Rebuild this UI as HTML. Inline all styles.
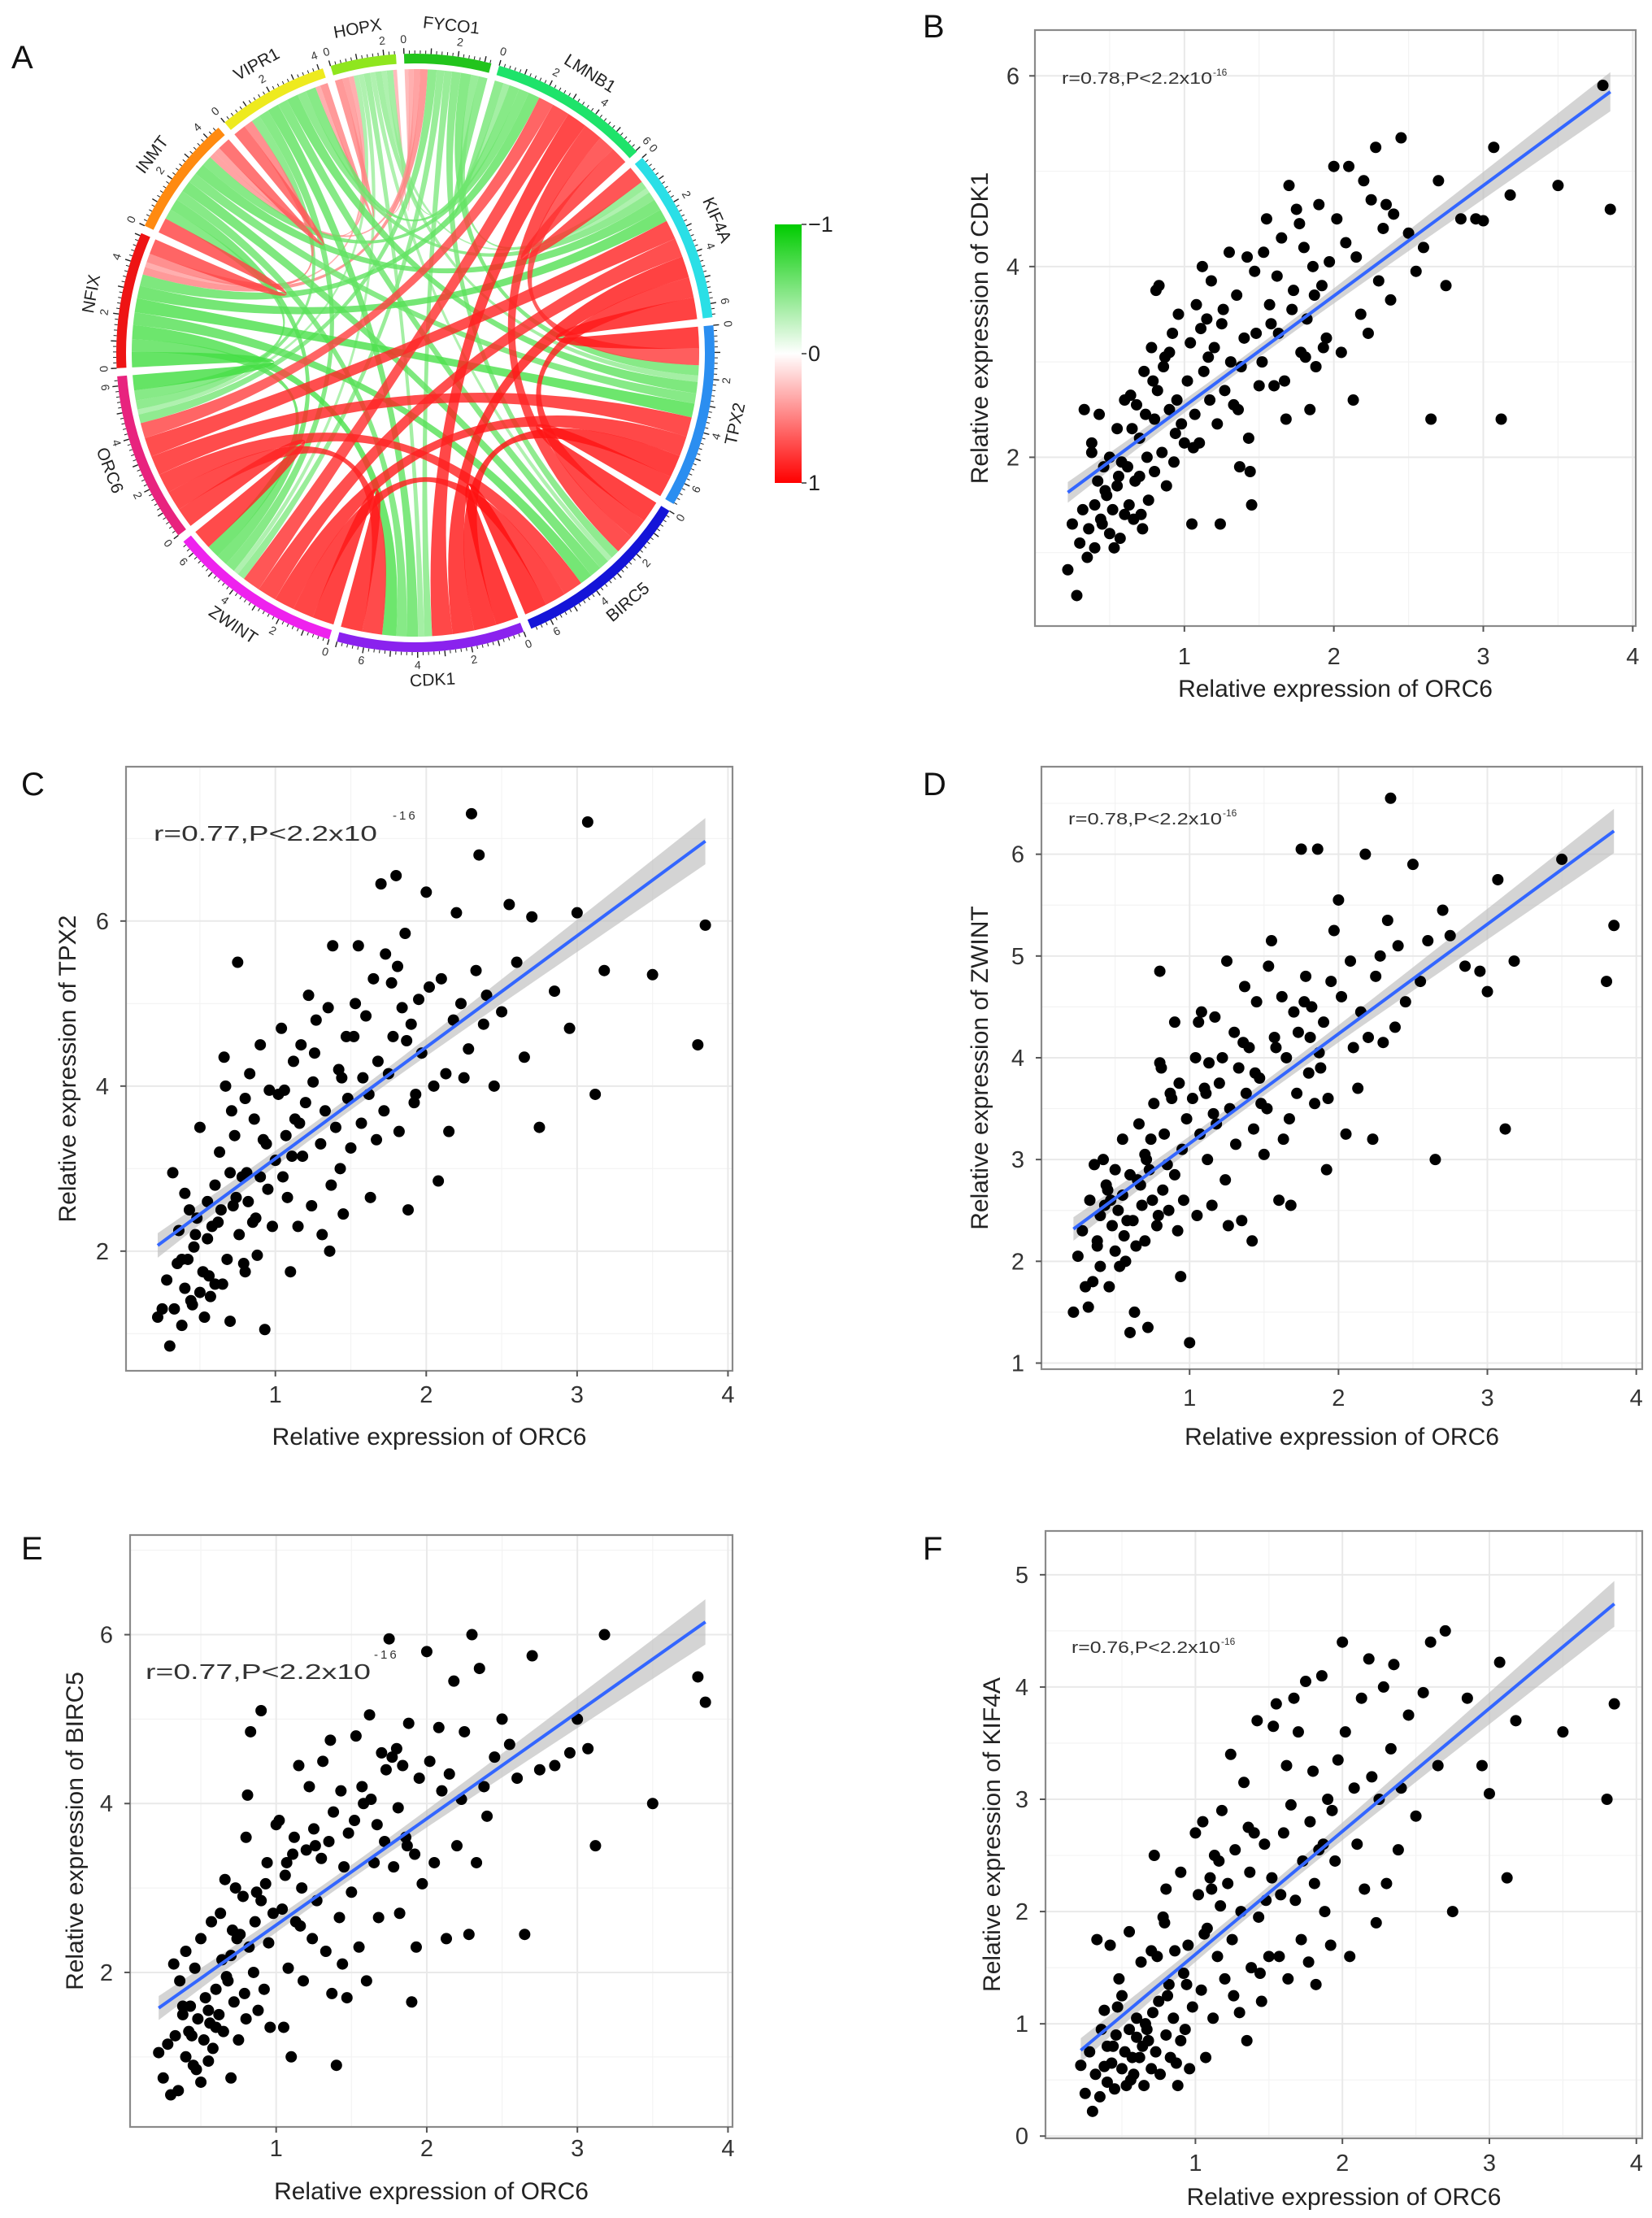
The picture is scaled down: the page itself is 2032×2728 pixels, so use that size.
<!DOCTYPE html>
<html><head><meta charset="utf-8"><title>ORC6 correlation figure</title>
<style>
html,body{margin:0;padding:0;background:#fff;}
svg{display:block;font-family:"Liberation Sans",Arial,sans-serif;}
</style></head>
<body>
<svg id="fig" xmlns="http://www.w3.org/2000/svg" width="2032" height="2728" viewBox="0 0 2032 2728">
<defs>
<linearGradient id="cbar" x1="0" y1="0" x2="0" y2="1">
<stop offset="0" stop-color="#00cc00"/><stop offset="0.5" stop-color="#ffffff"/><stop offset="1" stop-color="#ff0000"/>
</linearGradient>
</defs>
<rect x="0" y="0" width="2032" height="2728" fill="#fff"/>
<g id="chord"></g>
<g id="panels"></g>
</svg>
<script>
// ---------- Chord diagram data ----------
const genes=['FYCO1','LMNB1','KIF4A','TPX2','BIRC5','CDK1','ZWINT','ORC6','NFIX','INMT','VIPR1','HOPX'];
const linkFrom=[1,1,1,1,1,1, 2,2,2,2,2, 3,3,3,3, 4,4,4, 5,5, 6,
 0,0,0,0,0,0,0, 8,8,8,8,8,8,8, 9,9,9,9,9,9,9, 10,10,10,10,10,10,10, 11,11,11,11,11,11,11,
 0,0,0,0, 8,8,8, 9,9, 10];
const linkTo=[2,3,4,5,6,7, 3,4,5,6,7, 4,5,6,7, 5,6,7, 6,7, 7,
 1,2,3,4,5,6,7, 1,2,3,4,5,6,7, 1,2,3,4,5,6,7, 1,2,3,4,5,6,7, 1,2,3,4,5,6,7,
 8,9,10,11, 9,10,11, 10,11, 11];
const linkCorr=[0.7,0.65,0.75,0.8,0.7,0.6, 0.85,0.8,0.85,0.75,0.76, 0.85,0.88,0.8,0.77, 0.9,0.82,0.77, 0.85,0.78, 0.78,
 -0.35,-0.3,-0.4,-0.35,-0.3,-0.3,-0.35,
 -0.45,-0.5,-0.55,-0.5,-0.55,-0.5,-0.6,
 -0.4,-0.45,-0.4,-0.45,-0.4,-0.45,-0.4,
 -0.4,-0.35,-0.45,-0.4,-0.45,-0.4,-0.35,
 -0.25,-0.2,-0.25,-0.2,-0.25,-0.2,-0.2,
 0.3,0.25,0.2,0.15, 0.6,0.35,0.2, 0.5,0.25, 0.3];
const colorbarTicks=['−1','0','1'];

// ---------- Scatter data (shared ORC6 x values) ----------
const orc6X=[0.22,0.25,0.28,0.3,0.32,0.33,0.35,0.36,0.38,0.4,0.4,0.42,0.43,0.45,0.46,0.48,0.5,0.5,0.52,0.53,0.55,0.55,0.57,0.58,0.6,0.6,0.38,0.47,0.56,0.44,
0.62,0.63,0.65,0.66,0.68,0.7,0.7,0.72,0.73,0.75,0.76,0.78,0.8,0.8,0.82,0.83,0.85,0.86,0.88,0.9,0.9,0.92,0.93,0.95,0.96,0.98,1.0,0.64,0.71,0.79,0.87,0.94,0.67,0.74,0.81,
1.02,1.04,1.05,1.07,1.08,1.1,1.12,1.13,1.15,1.17,1.18,1.2,1.22,1.24,1.25,1.27,1.3,1.31,1.33,1.35,1.37,1.38,1.4,1.42,1.43,1.45,1.47,1.48,1.5,1.06,1.16,1.26,1.36,1.44,1.11,
1.52,1.55,1.57,1.6,1.62,1.63,1.65,1.68,1.7,1.72,1.73,1.75,1.78,1.8,1.82,1.84,1.86,1.88,1.9,1.92,1.95,1.97,2.0,1.58,1.67,1.77,1.87,1.93,1.53,1.81,
2.02,2.05,2.08,2.1,2.13,2.15,2.18,2.2,2.23,2.25,2.28,2.3,2.33,2.35,2.38,2.4,2.45,2.5,2.55,2.6,2.65,2.7,
2.75,2.85,2.95,3.0,3.07,3.12,3.18,3.5,3.8,3.85];
const cdk1Y=[0.82,1.3,0.55,1.1,1.45,2.5,0.95,1.25,2.15,1.5,1.05,1.75,2.45,1.3,1.9,1.6,1.2,2.0,1.45,1.05,2.3,1.7,1.15,1.95,1.4,2.6,2.05,1.65,1.8,1.35,
1.9,1.5,2.3,1.35,2.55,1.8,2.2,1.25,2.9,2.0,1.55,3.15,2.4,1.85,2.7,3.8,2.05,2.95,1.7,3.1,2.5,3.3,1.95,2.6,3.5,2.35,2.15,2.65,1.4,2.8,3.05,2.25,1.75,2.45,3.75,
2.8,3.2,1.3,2.45,3.6,2.15,4.0,2.9,3.45,2.6,3.85,3.15,2.35,1.3,3.4,2.7,4.15,3.0,2.55,3.7,1.9,2.95,3.25,4.1,2.2,1.5,3.95,3.3,2.75,2.1,3.05,3.55,2.5,1.85,3.35,
3.0,4.5,3.6,2.75,3.9,3.3,4.3,2.4,4.85,3.55,3.75,4.6,3.1,4.2,3.45,2.5,4.0,2.95,4.65,3.8,3.25,4.05,5.05,3.4,2.8,4.45,3.7,3.15,4.15,3.05,
4.5,3.1,4.25,5.05,2.6,4.1,3.5,4.9,3.3,4.7,5.25,3.85,4.4,4.65,3.65,4.55,5.35,4.35,3.95,4.2,2.4,4.9,
3.8,4.5,4.5,4.48,5.25,2.4,4.75,4.85,5.9,4.6];
const tpx2Y=[1.2,1.3,1.65,0.85,2.95,1.3,1.85,2.25,1.1,2.7,1.55,1.9,2.5,1.35,2.05,2.4,1.5,3.5,1.75,1.2,2.6,2.15,1.45,2.3,1.6,2.8,1.9,2.2,1.7,1.4,
2.35,3.2,1.6,4.35,1.9,2.95,1.15,2.55,3.4,5.5,2.2,2.9,3.85,1.75,2.6,4.15,2.35,3.6,1.95,4.5,2.9,3.35,1.05,2.75,3.95,2.3,3.1,2.5,3.7,1.85,2.4,3.3,4.0,2.65,2.95,
3.9,4.7,2.9,3.4,2.65,1.75,4.3,3.6,2.3,4.5,3.15,3.8,5.1,2.55,4.05,4.8,3.3,2.2,3.7,4.95,2.8,5.7,3.5,4.2,3.0,2.45,4.6,3.85,3.25,3.95,3.55,4.4,2.0,4.1,3.15,
4.6,5.7,3.55,4.85,3.9,2.65,5.3,4.3,6.45,3.7,5.6,4.15,4.6,6.55,3.45,4.95,5.85,2.5,4.75,3.8,5.05,4.4,6.35,4.1,3.35,5.25,4.55,3.9,5.0,5.45,
5.2,4.0,2.85,5.3,4.15,3.45,4.8,6.1,5.0,4.1,4.45,7.3,5.4,6.8,4.75,5.1,4.0,4.9,6.2,5.5,4.35,6.05,
3.5,5.15,4.7,6.1,7.2,3.9,5.4,5.35,4.5,5.95];
const zwintY=[1.5,2.05,2.3,1.75,1.55,2.6,1.8,2.95,2.2,2.45,1.95,3.0,2.55,2.7,1.75,2.35,2.9,2.1,2.5,1.95,3.2,2.65,2.0,2.4,1.3,2.85,2.15,2.6,2.25,2.75,
2.4,1.5,2.8,3.35,2.55,2.2,3.05,1.35,2.9,2.6,3.55,2.35,3.95,4.85,2.7,3.25,2.95,2.5,3.6,4.35,2.85,2.3,3.75,3.1,2.6,3.4,1.2,2.15,3.0,2.45,3.65,1.85,2.75,3.2,3.9,
3.6,4.0,2.45,3.25,4.45,3.7,3.0,3.95,2.55,4.4,3.35,3.75,4.0,2.8,4.95,3.5,4.25,3.15,3.9,2.4,4.7,3.65,4.1,2.2,3.3,4.55,3.8,3.55,3.05,4.35,3.45,2.35,4.15,3.85,3.65,
3.5,5.15,4.2,2.6,4.6,3.2,4.0,2.55,4.45,3.65,4.25,6.05,4.8,3.85,4.5,3.55,6.05,3.9,4.35,2.9,4.75,5.25,5.55,4.1,3.4,4.55,4.05,3.6,4.9,4.2,
4.6,3.25,4.95,4.1,3.7,4.45,6.0,4.2,3.2,4.8,5.0,4.15,5.35,6.55,4.3,5.1,4.55,5.9,4.75,5.15,3.0,5.45,
5.2,4.9,4.85,4.65,5.75,3.3,4.95,5.95,4.75,5.3];
const birc5Y=[1.05,0.75,1.15,0.55,2.1,1.25,0.6,1.9,1.5,1.0,2.25,1.3,1.6,0.9,2.05,1.45,0.7,2.4,1.2,1.7,0.95,1.55,2.6,1.1,1.35,1.8,1.6,0.85,1.4,1.25,
1.5,2.7,1.3,3.1,1.9,0.75,2.2,1.65,3.0,1.2,2.45,2.9,3.6,1.45,2.3,4.85,2.0,2.6,1.55,5.1,2.85,1.8,3.05,2.35,1.35,2.7,3.75,2.15,2.5,1.75,2.95,3.3,1.95,2.4,4.1,
3.8,2.75,1.35,3.3,2.05,1.0,3.6,2.6,4.45,3.0,1.9,3.45,4.2,2.4,3.7,2.85,3.35,4.5,2.25,3.55,1.75,3.9,0.9,2.65,4.15,3.25,1.7,3.65,2.95,3.15,2.55,3.5,4.75,2.1,3.4,
3.8,2.3,4.2,1.9,5.05,4.05,3.3,2.65,4.6,3.55,4.4,5.95,3.25,4.65,2.7,4.45,3.6,4.95,1.65,3.4,4.3,3.05,5.8,4.0,3.75,4.55,3.5,2.3,4.8,3.95,
4.5,3.3,4.9,4.15,2.4,4.35,5.45,3.5,4.05,4.85,2.45,6.0,3.3,5.6,4.2,3.85,4.55,5.0,4.7,4.3,2.45,5.75,
4.4,4.45,4.6,5.0,4.65,3.5,6.0,4.0,5.5,5.2];
const kif4aY=[0.63,0.38,0.75,0.22,0.55,1.75,0.35,0.95,1.12,0.48,0.8,1.7,0.65,0.42,0.9,1.4,0.6,1.25,0.75,0.45,0.95,1.82,0.7,0.55,1.05,0.88,0.62,1.15,0.5,0.8,
0.7,1.55,0.45,1.0,0.85,0.6,1.65,2.5,0.75,1.2,0.55,1.95,0.9,2.2,1.35,0.7,1.05,1.65,0.45,2.35,0.85,1.45,0.95,1.7,0.6,1.15,2.7,0.8,1.1,1.9,0.65,1.35,0.95,1.6,1.25,
2.15,1.3,2.8,0.7,1.85,2.3,1.05,2.5,1.6,2.05,2.9,1.4,2.25,3.4,1.75,2.55,1.1,2.0,3.15,0.85,2.35,1.5,2.7,3.7,1.95,1.2,2.6,2.1,1.6,1.8,2.45,1.25,2.75,1.45,2.2,
2.3,3.85,1.6,2.7,3.3,1.4,2.95,2.1,3.6,1.75,2.45,4.05,2.8,3.25,1.35,2.55,4.1,2.0,3.0,1.7,2.45,3.35,4.4,2.15,3.9,1.55,2.6,2.9,3.65,2.25,
3.6,1.6,3.1,2.6,3.9,2.2,4.25,3.2,1.9,3.0,4.0,2.25,3.45,4.2,2.55,3.1,3.75,2.85,3.95,4.4,3.3,4.5,
2.0,3.9,3.3,3.05,4.22,2.3,3.7,3.6,3.0,3.85];
const xTicks=[1,2,3,4];
const ticksB=[2,4,6], ticksC=[2,4,6], ticksD=[1,2,3,4,5,6], ticksE=[2,4,6], ticksF=[0,1,2,3,4,5];

const NS='http://www.w3.org/2000/svg';
function mk(tag,attrs,parent){const e=document.createElementNS(NS,tag);for(const k in attrs)e.setAttribute(k,attrs[k]);if(parent)parent.appendChild(e);return e;}

// ---------- Chord diagram ----------
(function(){
  const g=document.getElementById('chord');
  const cx=511,cy=434,Rout=368,Rin=356,Rrib=349;
  const geneColors=['#22c41c','#1ee36a','#2adfe6','#2b8ef0','#1414d8','#8a22ee','#ee22ee','#e8237e','#ee1414','#ff8a10','#eeea1e','#8fe61e'];
  const n=genes.length;
  const sums=new Array(n).fill(0);
  for(let k=0;k<linkCorr.length;k++){sums[linkFrom[k]]+=Math.abs(linkCorr[k]);sums[linkTo[k]]+=Math.abs(linkCorr[k]);}
  const total=sums.reduce((a,b)=>a+b,0);
  const gap=1.55, startAng=-2.2;
  const dpu=(360-n*gap)/total;
  const secStart=[],secEnd=[];
  let a=startAng;
  for(let i=0;i<n;i++){secStart.push(a);secEnd.push(a+sums[i]*dpu);a+=sums[i]*dpu+gap;}
  const rad=d=>d*Math.PI/180;
  const P=(r,d)=>[cx+r*Math.sin(rad(d)),cy-r*Math.cos(rad(d))];
  const slots={};
  for(let i=0;i<n;i++){
    const ls=[];
    for(let k=0;k<linkCorr.length;k++){
      if(linkFrom[k]===i)ls.push({k,j:linkTo[k]});
      else if(linkTo[k]===i)ls.push({k,j:linkFrom[k]});
    }
    ls.sort((p,q)=>(((q.j-i)+n)%n)-(((p.j-i)+n)%n));
    let s=secStart[i];
    for(const l of ls){const w=Math.abs(linkCorr[l.k])*dpu;slots[i+'_'+l.k]=[s,s+w];s+=w;}
  }
  function col(r){
    const t=Math.min(1,Math.abs(r));
    const f=Math.pow(t,0.6);
    if(r>=0)return `rgb(255,${Math.round(255*(1-f))},${Math.round(255*(1-f))})`;
    return `rgb(${Math.round(255*(1-f))},${Math.round(255-45*f)},${Math.round(255*(1-f))})`;
  }
  const ribbons=mk('g',{},g);
  
  
  const order=[...linkCorr.keys()].sort((p,q)=>Math.abs(linkCorr[p])-Math.abs(linkCorr[q]));
  for(const k of order){
    const i=linkFrom[k],j=linkTo[k];
    const [a1,a2]=slots[i+'_'+k],[b1,b2]=slots[j+'_'+k];
    const A1=P(Rrib,a1),A2=P(Rrib,a2),B1=P(Rrib,b1),B2=P(Rrib,b2);
    const d=`M${A1[0]},${A1[1]} A${Rrib},${Rrib} 0 0 1 ${A2[0]},${A2[1]} Q${cx},${cy} ${B1[0]},${B1[1]} A${Rrib},${Rrib} 0 0 1 ${B2[0]},${B2[1]} Q${cx},${cy} ${A1[0]},${A1[1]} Z`;
    const p=mk('path',{d,fill:col(linkCorr[k]),'fill-opacity':0.82,stroke:'none'},ribbons);
    
    
  }
  for(let i=0;i<n;i++){
    const sg=mk('g',{},g);
    
    
    const s=secStart[i],e=secEnd[i];
    const o1=P(Rout,s),o2=P(Rout,e),i1=P(Rin,e),i2=P(Rin,s);
    mk('path',{d:`M${o1[0]},${o1[1]} A${Rout},${Rout} 0 0 1 ${o2[0]},${o2[1]} L${i1[0]},${i1[1]} A${Rin},${Rin} 0 0 0 ${i2[0]},${i2[1]} Z`,fill:geneColors[i]},sg);
    for(let u=0;u<=sums[i]+1e-9;u+=0.2){
      const d=s+u*dpu;const maj=Math.abs(u-Math.round(u))<1e-6;
      const t1=P(Rout,d),t2=P(Rout+(maj?7:4),d);
      mk('line',{x1:t1[0],y1:t1[1],x2:t2[0],y2:t2[1],stroke:'#222','stroke-width':maj?1.4:1},sg);
      if(maj&&Math.round(u)%2===0){
        const tp=P(Rout+17,d);let rot=((d%360)+360)%360;rot=(rot>90&&rot<270)?rot-180:rot;
        const tl=mk('text',{x:tp[0],y:tp[1],'font-size':14,'text-anchor':'middle','dominant-baseline':'middle',fill:'#333',transform:`rotate(${rot} ${tp[0]} ${tp[1]})`},sg);
        tl.textContent=String(Math.round(u));
      }
    }
    const mid=(s+e)/2;const lp=P(Rout+36,mid);
    let rot=((mid%360)+360)%360;rot=(rot>90&&rot<270)?rot-180:rot;
    const t=mk('text',{x:lp[0],y:lp[1],'font-size':21,'text-anchor':'middle','dominant-baseline':'middle',fill:'#222',transform:`rotate(${rot} ${lp[0]} ${lp[1]})`},sg);
    t.textContent=genes[i];
    
    
  }
  const cb=mk('g',{},g);
  
  
  mk('rect',{x:953,y:276,width:33,height:318,fill:'url(#cbar)'},cb);
  const ys=[276,435,594];
  colorbarTicks.forEach((lab,k)=>{
    mk('line',{x1:986,y1:ys[k],x2:992,y2:ys[k],stroke:'#333','stroke-width':1.5},cb);
    const t=mk('text',{x:994,y:ys[k]+9,'font-size':27,fill:'#222'},cb);t.textContent=lab;
  });
})();

// ---------- Scatter panels ----------
const panelDefs=[
 {id:'B',letter:[1135,46],y:cdk1Y,gene:'CDK1',L:1273,R:2012,T:37,B:770,xmin:0.0,xmax:4.02,ymin:0.23,ymax:6.48,ticks:ticksB,
  xtickY:817,xtitleY:857,ytickX:1262,ytitleX:1207,ann:{x:1306,y:103,w:185,sx:1492,sy:93,fs:20,sp:false},r:'r=0.78,P<2.2x10'},
 {id:'C',letter:[26,978],y:tpx2Y,gene:'TPX2',L:155,R:901,T:943,B:1686,xmin:0.01,xmax:4.03,ymin:0.55,ymax:7.87,ticks:ticksC,
  xtickY:1725,xtitleY:1777,ytickX:142,ytitleX:85,ann:{x:189,y:1034,w:275,sx:483,sy:1008,fs:26,sp:true},r:'r=0.77,P<2.2x10'},
 {id:'D',letter:[1135,978],y:zwintY,gene:'ZWINT',L:1281,R:2020,T:943,B:1684,xmin:0.005,xmax:4.04,ymin:0.94,ymax:6.86,ticks:ticksD,
  xtickY:1729,xtitleY:1777,ytickX:1268,ytitleX:1207,ann:{x:1314,y:1014,w:189,sx:1504,sy:1004,fs:20,sp:false},r:'r=0.78,P<2.2x10'},
 {id:'E',letter:[26,1918],y:birc5Y,gene:'BIRC5',L:160,R:901,T:1888,B:2616,xmin:0.03,xmax:4.03,ymin:0.17,ymax:7.18,ticks:ticksE,
  xtickY:2652,xtitleY:2705,ytickX:147,ytitleX:94,ann:{x:179,y:2065,w:277,sx:460,sy:2040,fs:26,sp:true},r:'r=0.77,P<2.2x10'},
 {id:'F',letter:[1135,1918],y:kif4aY,gene:'KIF4A',L:1286,R:2020,T:1883,B:2630,xmin:-0.02,xmax:4.04,ymin:-0.02,ymax:5.39,ticks:ticksF,
  xtickY:2670,xtitleY:2712,ytickX:1273,ytitleX:1222,ann:{x:1318,y:2033,w:183,sx:1502,sy:2023,fs:20,sp:false},r:'r=0.76,P<2.2x10'}
];
(function(){
  const root=document.getElementById('panels');
  const la=mk('text',{x:14,y:84,'font-size':40,fill:'#111'},root);la.textContent='A';
  
  for(const p of panelDefs){
    const g=mk('g',{},root);
    
    
    const sx=v=>p.L+(v-p.xmin)/(p.xmax-p.xmin)*(p.R-p.L);
    const sy=v=>p.B-(v-p.ymin)/(p.ymax-p.ymin)*(p.B-p.T);
    const lt=mk('text',{x:p.letter[0],y:p.letter[1],'font-size':40,fill:'#111'},g);lt.textContent=p.id;
    
    mk('rect',{x:p.L,y:p.T,width:p.R-p.L,height:p.B-p.T,fill:'#fff'},g);
    const grid=mk('g',{},g);
    
    const dy=p.ticks[1]-p.ticks[0];
    for(let v=p.ticks[0]-dy/2;v<=p.ymax;v+=dy){if(v>p.ymin)mk('line',{x1:p.L,x2:p.R,y1:sy(v),y2:sy(v),stroke:'#f3f3f3','stroke-width':1.2},grid);}
    for(let v=0.5;v<p.xmax;v+=1){if(v>p.xmin)mk('line',{x1:sx(v),x2:sx(v),y1:p.T,y2:p.B,stroke:'#f3f3f3','stroke-width':1.2},grid);}
    for(const v of p.ticks)mk('line',{x1:p.L,x2:p.R,y1:sy(v),y2:sy(v),stroke:'#e9e9e9','stroke-width':2},grid);
    for(const v of xTicks)mk('line',{x1:sx(v),x2:sx(v),y1:p.T,y2:p.B,stroke:'#e9e9e9','stroke-width':2},grid);
    const xs=orc6X,ys=p.y,n=Math.min(xs.length,ys.length);
    let mx=0,my=0;for(let i=0;i<n;i++){mx+=xs[i];my+=ys[i];}mx/=n;my/=n;
    let sxx=0,sxy=0;for(let i=0;i<n;i++){sxx+=(xs[i]-mx)**2;sxy+=(xs[i]-mx)*(ys[i]-my);}
    const b=sxy/sxx,a0=my-b*mx;let sse=0;for(let i=0;i<n;i++)sse+=(ys[i]-a0-b*xs[i])**2;
    const s2=sse/(n-2);
    // reference sample is ~550 patients: scale SE to that sample size
    const nRef=550;
    const x0=Math.min(...xs),x1=Math.max(...xs);
    const up=[],lo=[];
    for(let k=0;k<=40;k++){const x=x0+(x1-x0)*k/40;const se=Math.sqrt(s2*(1/nRef+(x-mx)**2/(sxx*nRef/n)))*1.97;const yh=a0+b*x;up.push(sx(x)+','+sy(yh+se));lo.unshift(sx(x)+','+sy(yh-se));}
    const band=mk('polygon',{points:up.concat(lo).join(' '),fill:'#bdbdbd','fill-opacity':0.65},g);
    
    const pts=mk('g',{},g);
    
    for(let i=0;i<n;i++){
      const c=mk('circle',{cx:sx(xs[i]),cy:sy(ys[i]),r:7,fill:'#000'},pts);
      
      
    }
    const ln=mk('line',{x1:sx(x0),y1:sy(a0+b*x0),x2:sx(x1),y2:sy(a0+b*x1),stroke:'#3366ff','stroke-width':4},g);
    
    mk('rect',{x:p.L,y:p.T,width:p.R-p.L,height:p.B-p.T,fill:'none',stroke:'#8a8a8a','stroke-width':2.2},g);
    const xa=mk('g',{},g);
    for(const v of xTicks){
      mk('line',{x1:sx(v),x2:sx(v),y1:p.B,y2:p.B+7,stroke:'#555','stroke-width':2},xa);
      const t=mk('text',{x:sx(v),y:p.xtickY,'font-size':29,'text-anchor':'middle',fill:'#333'},xa);t.textContent=String(v);
    }
    const xt=mk('text',{x:(p.L+p.R)/2,y:p.xtitleY,'font-size':30,'text-anchor':'middle',fill:'#222'},g);
    xt.textContent='Relative expression of ORC6';
    
    const ya=mk('g',{},g);
    for(const v of p.ticks){
      mk('line',{x1:p.L-7,x2:p.L,y1:sy(v),y2:sy(v),stroke:'#555','stroke-width':2},ya);
      const t=mk('text',{x:p.ytickX-8,y:sy(v)+10,'font-size':29,'text-anchor':'end',fill:'#333'},ya);t.textContent=String(v);
    }
    const yc=(p.T+p.B)/2;
    const yt=mk('text',{x:p.ytitleX,y:yc,'font-size':30,'text-anchor':'middle','dominant-baseline':'middle',fill:'#222',transform:`rotate(-90 ${p.ytitleX} ${yc})`},g);
    yt.textContent='Relative expression of '+p.gene;
    
    const an=mk('g',{},g);
    const at=mk('text',{x:p.ann.x,y:p.ann.y,'font-size':p.ann.fs,fill:'#333',textLength:p.ann.w,lengthAdjust:'spacingAndGlyphs'},an);
    at.textContent=p.r;
    const st=mk('text',{x:p.ann.sx,y:p.ann.sy,'font-size':p.ann.sp?15:12,fill:'#333','letter-spacing':p.ann.sp?3:0},an);
    st.textContent='-16';
  }
})();
</script>
</body></html>
